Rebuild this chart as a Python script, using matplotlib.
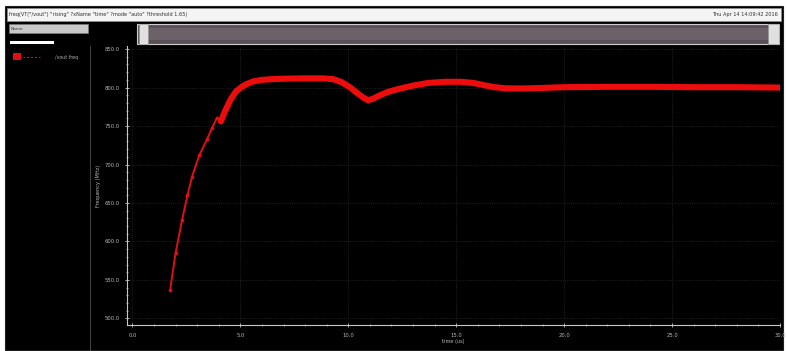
import numpy as np
import matplotlib.pyplot as plt
from matplotlib.patches import Rectangle
from matplotlib.ticker import MultipleLocator

# frequency trace of the VCO output (time in us, frequency in MHz)
t_ramp = [1.75, 2.0, 2.3, 2.55, 2.76, 3.1, 3.46, 3.7, 3.92, 4.1]
f_ramp = [537.5, 585.0, 628.0, 660.0, 684.0, 712.0, 733.0, 748.0, 761.0, 756.0]

t_lock = [4.1, 4.3, 4.56, 4.8, 5.05, 5.25, 5.6, 5.99, 6.5, 7.0, 8.0, 8.8, 9.3,
          9.7, 10.1, 10.5, 10.75, 10.92, 11.1, 11.4, 11.8, 12.3, 13.0, 13.69,
          14.5, 15.2, 15.8, 16.3, 16.77, 17.3, 18.0, 19.0, 20.0, 22.0, 24.0,
          26.0, 28.0, 30.0]
f_lock = [756.0, 770.0, 785.0, 795.0, 800.5, 804.0, 808.0, 810.0, 811.0, 811.5,
          812.0, 812.0, 811.0, 807.0, 800.0, 791.0, 786.0, 783.6, 785.0, 789.0,
          794.0, 798.0, 802.5, 806.0, 807.5, 807.5, 806.0, 803.0, 800.5, 799.0,
          798.8, 799.5, 800.5, 801.0, 801.0, 800.5, 800.5, 800.0]

y_ticks = [500.0, 550.0, 600.0, 650.0, 700.0, 750.0, 800.0, 850.0]
x_ticks = [0.0, 5.0, 10.0, 15.0, 20.0, 25.0, 30.0]

title = 'freq(VT("/vout") "rising" ?xName "time" ?mode "auto" ?threshold 1.65)'
stamp = "Thu Apr 14 14:09:42 2016"
trace_name = "/vout freq"

W, H = 787, 351
fig = plt.figure(figsize=(W / 100, H / 100), dpi=100)
fig.patch.set_facecolor("white")


def box(x0, y0, x1, y1, **kw):
    # rectangle in pixel coords, y measured from top
    fig.patches.append(Rectangle((x0 / W, 1 - y1 / H), (x1 - x0) / W, (y1 - y0) / H,
                                 transform=fig.transFigure, zorder=-5, **kw))


def txt(x, y, s, **kw):
    fig.text(x / W, 1 - y / H, s, **kw)


# window frame
box(5, 6, 783, 350, facecolor="black", edgecolor="#202020", lw=0.8)
box(7, 8, 781, 21, facecolor="#f4f4f4", edgecolor="#909090", lw=0.5)
txt(9, 14.5, title, fontsize=3.6, color="#303030", va="center")
txt(778, 14.5, stamp, fontsize=3.6, color="#303030", va="center", ha="right")

# name box + scrollbar strip
box(9, 24, 88, 33, facecolor="#c8c8c8", edgecolor="#808080", lw=0.4)
txt(11, 28.5, "Name", fontsize=3.2, color="#404040", va="center")
box(10, 41, 54, 44, facecolor="white", edgecolor="none")
box(137, 24, 779, 44, facecolor="#5a5058", edgecolor="#d0d0d0", lw=0.8)
box(139, 28, 777, 40, facecolor="#6c6069", edgecolor="none")
box(139, 24, 148, 44, facecolor="#e0e0e0", edgecolor="#909090", lw=0.4)
box(768, 24, 779, 44, facecolor="#e0e0e0", edgecolor="#909090", lw=0.4)

# legend panel separator
fig.lines.append(plt.Line2D([90 / W, 90 / W], [1 - 46 / H, 1 - 350 / H],
                            transform=fig.transFigure, color="#505050", lw=0.6))
fig.lines.append(plt.Line2D([19 / W, 40 / W], [1 - 57 / H, 1 - 57 / H],
                            transform=fig.transFigure, color="#e01010", lw=0.8,
                            ls=(0, (2, 1.5))))
box(13, 53, 21, 60, facecolor="#e01010", edgecolor="none")
txt(55, 57, trace_name, fontsize=3.4, color="#b0b0b0", va="center")

# plot area
ax = fig.add_axes([127 / W, 1 - 325 / H, (780 - 127) / W, (325 - 46) / H])
ax.set_zorder(5)
ax.set_facecolor("black")
ax.plot(t_ramp, f_ramp, color="#e01010", lw=1.4, marker="o", ms=1.6,
        solid_capstyle="round")
ax.plot(t_lock, f_lock, color="#ec0c0c", lw=4.4, solid_capstyle="round",
        solid_joinstyle="round")

ax.set_xlim(-0.25, 30.0)
ax.set_ylim(491.5, 854)
ax.set_xticks(x_ticks)
ax.set_yticks(y_ticks)
ax.set_xticklabels(["%.1f" % v for v in x_ticks])
ax.set_yticklabels(["%.1f" % v for v in y_ticks])
ax.xaxis.set_minor_locator(MultipleLocator(1.0))
ax.yaxis.set_minor_locator(MultipleLocator(10.0))
ax.grid(True, which="major", color="#3a3a3a", ls=(0, (1, 2)), lw=0.5)

for side in ["top", "right"]:
    ax.spines[side].set_visible(False)
for side in ["left", "bottom"]:
    ax.spines[side].set_color("#c8c8c8")
    ax.spines[side].set_linewidth(0.8)

ax.tick_params(which="both", colors="#c8c8c8", labelsize=3.8, direction="inout")
ax.tick_params(which="major", length=3, width=0.6, pad=4)
ax.tick_params(which="minor", length=2, width=0.5)
for lab in ax.get_xticklabels() + ax.get_yticklabels():
    lab.set_color("#b8b8b8")

ax.set_ylabel("Frequency (MHz)", fontsize=3.6, color="#b8b8b8", labelpad=2)
ax.set_xlabel("time (us)", fontsize=3.6, color="#b8b8b8", labelpad=1)

fig.savefig("out.png", dpi=100, facecolor=fig.get_facecolor())
